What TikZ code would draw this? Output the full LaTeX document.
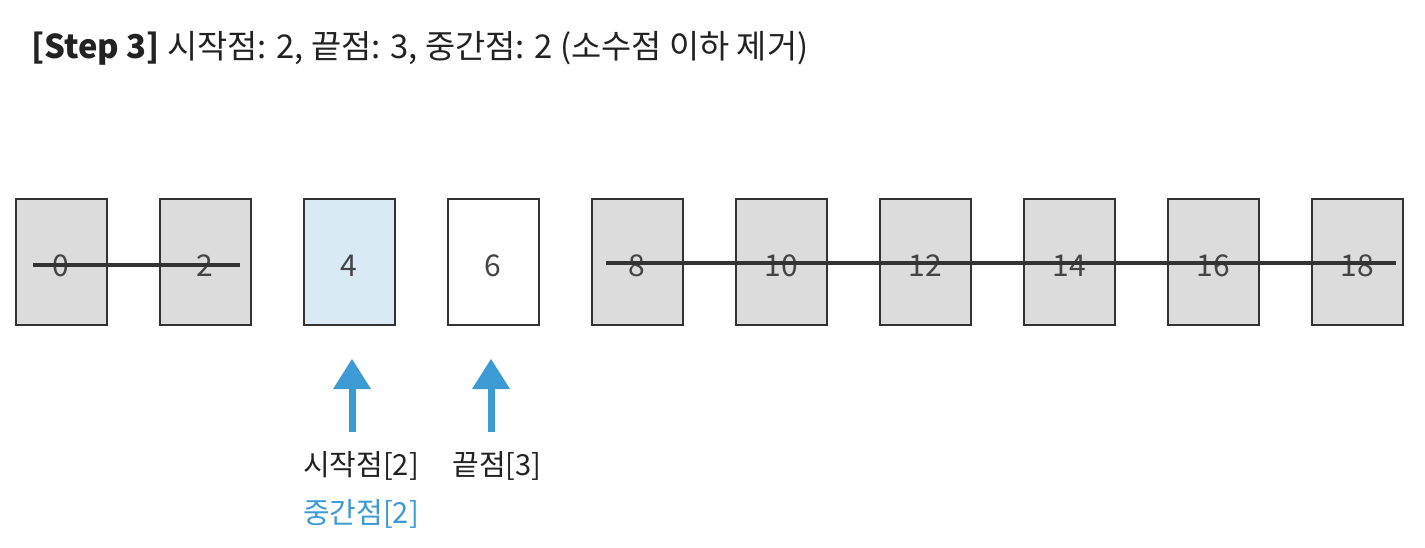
\documentclass[tikz,border=0pt]{standalone}
\usepackage{fontspec}
\setmainfont{Noto Sans CJK KR}
\usetikzlibrary{calc}
\definecolor{boxgray}{HTML}{DCDCDD}
\definecolor{boxblue}{HTML}{D9EAF5}
\definecolor{edge}{HTML}{333333}
\definecolor{arrowblue}{HTML}{3D9BD3}
\definecolor{txt}{HTML}{222222}
\definecolor{numtxt}{HTML}{444444}
\begin{document}
\begin{tikzpicture}[x=1pt,y=-1pt,
  cell/.style={draw=edge,line width=2pt,minimum width=91pt,minimum height=126pt,inner sep=0pt},
  gcell/.style={cell,fill=boxgray},
  bcell/.style={cell,fill=boxblue},
  wcell/.style={cell,fill=white},
  num/.style={font=\fontsize{30}{34}\selectfont,text=numtxt,inner sep=0pt},
  strike/.style={draw=edge,line width=3.5pt},
  up/.style={fill=arrowblue,draw=none},
  lab/.style={font=\fontsize{29}{33}\selectfont,text=txt,inner sep=0pt}]
\useasboundingbox (0,0) rectangle (1425,547);
\fill[white] (0,0) rectangle (1425,547);
\node[anchor=base west,inner sep=0pt,text=txt,font=\fontsize{32.8}{37}\selectfont] (title) at (31,58)
  {\textbf{[Step 3]} 시작점: 2, 끝점: 3, 중간점: 2 (소수점 이하 제거)};
\foreach \v/\cx/\sty in {0/61/gcell,2/205/gcell,4/349/bcell,6/493/wcell,
  8/637/gcell,10/781/gcell,12/925/gcell,14/1069/gcell,16/1213/gcell,18/1357/gcell}{
  \node[\sty] (c\v) at (\cx,262) {};
  \node[num] (n\v) at (\cx,266) {\v};
}
\coordinate (s1a) at (33,265);
\coordinate (s1b) at (240,265);
\coordinate (s2a) at (606,263);
\coordinate (s2b) at (1396,263);
\draw[strike] (s1a) -- (s1b);
\draw[strike] (s2a) -- (s2b);
% arrows
\coordinate (a1) at (352,359);
\coordinate (a2) at (491,359);
\foreach \a in {a1,a2}{
  \fill[up] ($(\a)+(-3.5,29)$) rectangle ($(\a)+(3.5,73)$);
  \fill[up] (\a) -- ($(\a)+(-19,30)$) -- ($(\a)+(19,30)$) -- cycle;
}
\node[lab,anchor=base] (l1) at (361,475) {시작점[2]};
\node[lab,anchor=base] (l2) at (497,475) {끝점[3]};
\node[lab,anchor=base,text=arrowblue] (l3) at (361,523) {중간점[2]};
\end{tikzpicture}
\end{document}
